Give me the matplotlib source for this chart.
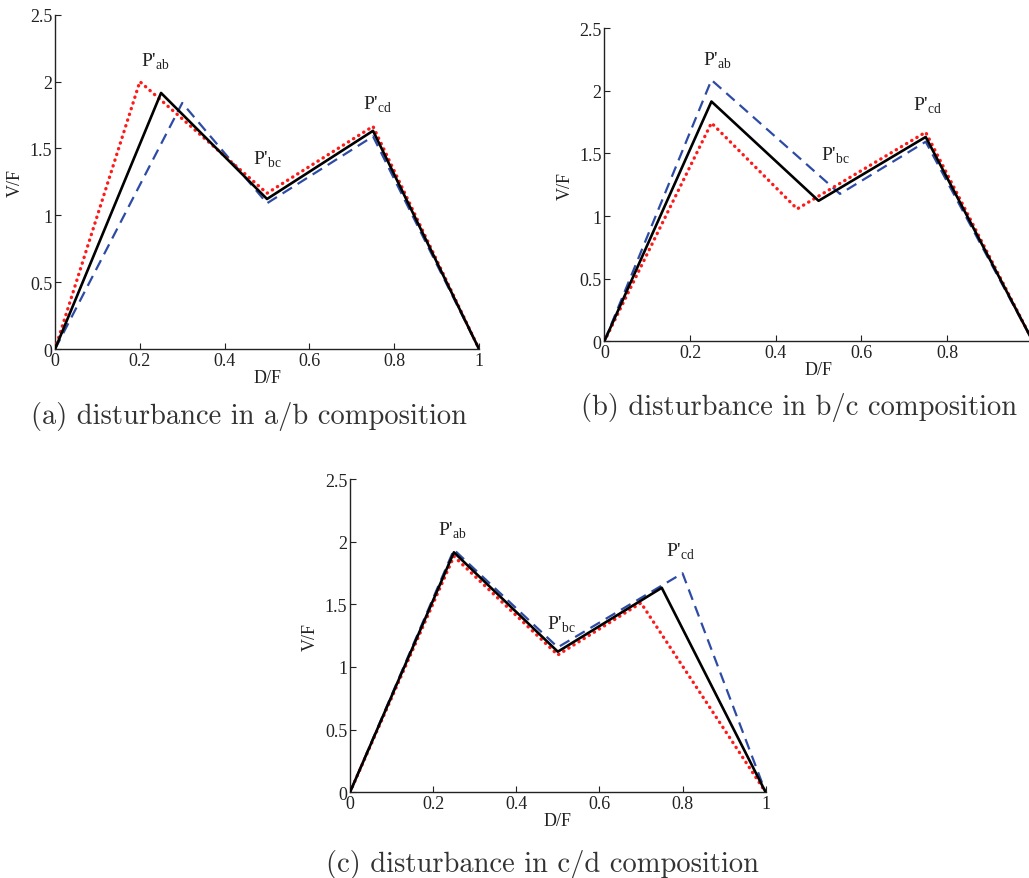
import numpy as np
import matplotlib.pyplot as plt

plt.rcParams['font.family'] = 'Liberation Serif'
plt.rcParams['mathtext.fontset'] = 'custom'
plt.rcParams['mathtext.rm'] = 'Liberation Serif'

# D/F breakpoints and V/F values for each case: base, dashed, dotted
base_x = [0, 0.25, 0.5, 0.75, 1]
base_y = [0, 1.915, 1.122, 1.632, 0]

ab_blue_x = [0, 0.30, 0.5, 0.75, 1]
ab_blue_y = [0, 1.84, 1.09, 1.59, 0]
ab_red_x = [0, 0.20, 0.5, 0.75, 1]
ab_red_y = [0, 2.00, 1.165, 1.665, 0]

bc_blue_x = [0, 0.25, 0.55, 0.75, 1]
bc_blue_y = [0, 2.087, 1.177, 1.594, 0]
bc_red_x = [0, 0.25, 0.45, 0.75, 1]
bc_red_y = [0, 1.744, 1.057, 1.670, 0]

cd_blue_x = [0, 0.25, 0.5, 0.8, 1]
cd_blue_y = [0, 1.936, 1.157, 1.748, 0]
cd_red_x = [0, 0.25, 0.5, 0.7, 1]
cd_red_y = [0, 1.883, 1.096, 1.511, 0]

xticks = [0, 0.2, 0.4, 0.6, 0.8, 1]
xticklabels = ['0', '0.2', '0.4', '0.6', '0.8', '1']
yticks = [0, 0.5, 1, 1.5, 2, 2.5]
yticklabels = ['0', '0.5', '1', '1.5', '2', '2.5']

blue = '#2d4ba5'
red = '#ff1a1a'

fig = plt.figure(figsize=(10.29, 8.79), dpi=100)

panels = [
    ([0.0535, 0.6018, 0.412, 0.3803], ab_blue_x, ab_blue_y, ab_red_x, ab_red_y,
     [(0.202, 2.119, 'ab'), (0.468, 1.389, 'bc'), (0.726, 1.795, 'cd')],
     '(a) disturbance in a/b composition', (249, 417), True),
    ([0.5873, 0.6106, 0.4164, 0.3561], bc_blue_x, bc_blue_y, bc_red_x, bc_red_y,
     [(0.231, 2.207, 'ab'), (0.505, 1.448, 'bc'), (0.72, 1.847, 'cd')],
     '(b) disturbance in b/c composition', (799, 407), False),
    ([0.3401, 0.0975, 0.404, 0.3564], cd_blue_x, cd_blue_y, cd_red_x, cd_red_y,
     [(0.211, 2.053, 'ab'), (0.473, 1.303, 'bc'), (0.76, 1.888, 'cd')],
     '(c) disturbance in c/d composition', (542, 865), True),
]

for pos, bx, by, rx, ry, labels, caption, cpos, last_label in panels:
    ax = fig.add_axes(pos)
    ax.plot(bx, by, color=blue, lw=1.6, ls=(0, (5, 3)), zorder=2)
    ax.plot(rx, ry, color=red, lw=2.4, ls=(0, (0.1, 1.7)),
            dash_capstyle='round', zorder=3)
    ax.plot(base_x, base_y, color='black', lw=1.9, zorder=4)
    ax.set_xlim(0, 1)
    ax.set_ylim(0, 2.5)
    ax.set_xticks(xticks)
    # right end of the b/c panel runs off the page, so its "1" is dropped
    ax.set_xticklabels(xticklabels if last_label else xticklabels[:-1] + [''])
    ax.set_yticks(yticks)
    ax.set_yticklabels(yticklabels)
    ax.tick_params(direction='in', length=4, width=0.8, labelsize=13,
                   colors='#222222', pad=2)
    for s in ['top', 'right']:
        ax.spines[s].set_visible(False)
    for s in ['left', 'bottom']:
        ax.spines[s].set_linewidth(1.0)
        ax.spines[s].set_color('#222222')
    ax.set_xlabel('D/F', fontsize=13, color='#222222', labelpad=0)
    ax.set_ylabel('V/F', fontsize=13, color='#222222', labelpad=4)
    for x, y, sub in labels:
        ax.text(x, y, "P'$_{\\mathregular{%s}}$" % sub, fontsize=14,
                color='#222222', ha='left', va='baseline')
    fig.text(cpos[0] / 1029, 1 - cpos[1] / 879, caption, family='cmr10',
             fontsize=20.5, color='#333333', ha='center', va='center')

fig.savefig('out.png', dpi=100)
